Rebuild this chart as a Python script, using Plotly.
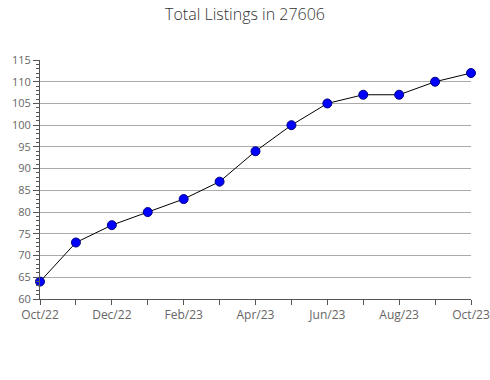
import plotly.graph_objects as go

months = ["Oct/22","Nov/22","Dec/22","Jan/23","Feb/23","Mar/23","Apr/23",
          "May/23","Jun/23","Jul/23","Aug/23","Sep/23","Oct/23"]
values = [64, 73, 77, 80, 83, 87, 94, 100, 105, 107, 107, 110, 112]
y_ticks = list(range(60, 116, 5))

x = list(range(len(months)))
ticktext = [m if i % 2 == 0 else "" for i, m in enumerate(months)]

fig = go.Figure()
fig.add_trace(go.Scatter(
    x=x, y=values, mode="lines+markers",
    line=dict(color="black", width=1),
    marker=dict(symbol="circle", size=9, color="#0000ff",
                line=dict(color="#000080", width=1)),
    cliponaxis=False, showlegend=False,
))

fig.update_layout(
    width=490, height=380,
    margin=dict(l=40, r=19, t=60, b=81),
    paper_bgcolor="white", plot_bgcolor="white",
    font=dict(family="Open Sans", color="#666", size=11),
    title=dict(text="Total Listings in 27606", x=0.5, xanchor="center",
               y=0.963, yanchor="middle",
               font=dict(family="Open Sans", size=16, color="#333", weight=300)),
    xaxis=dict(range=[0, 12], tickvals=x, ticktext=ticktext, automargin=False,
               showgrid=False, zeroline=False,
               showline=True, linecolor="#555", linewidth=1,
               ticks="outside", ticklen=5, tickcolor="#555",
               tickfont=dict(size=12, color="#666")),
    yaxis=dict(range=[60, 115], tickvals=y_ticks, automargin=False,
               showgrid=True, gridcolor="#aaaaaa", gridwidth=1,
               zeroline=False,
               showline=True, linecolor="#555", linewidth=1,
               ticks="outside", ticklen=6, tickcolor="#555",
               tickfont=dict(size=11, color="#666"),
               minor=dict(dtick=1, ticks="outside", ticklen=3,
                          tickcolor="#555", showgrid=False)),
)

fig.write_html("out.html")
